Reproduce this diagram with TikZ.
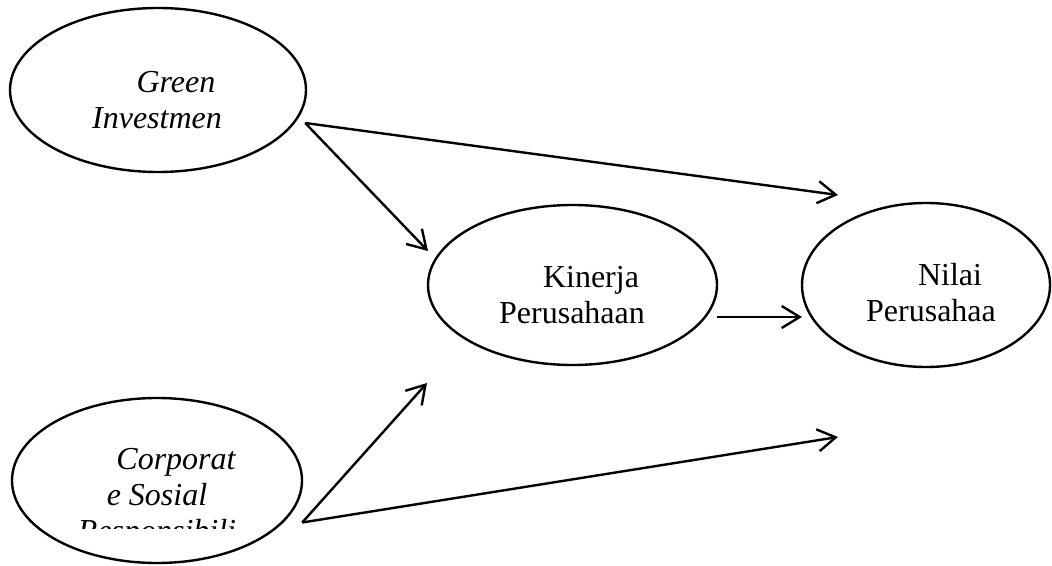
\documentclass[tikz,border=0pt]{standalone}
\usepackage{fontspec}
\setmainfont{Liberation Serif}
\usetikzlibrary{shapes.geometric,arrows.meta}
\tikzset{
  var/.style={draw, ellipse, line width=1.2pt, inner sep=0pt},
  lbl/.style={align=center, inner sep=0pt, font=\fontsize{16}{18}\selectfont},
  itlbl/.style={lbl, font=\fontsize{16}{18}\selectfont\itshape},
  arr/.style={-{Straight Barb[length=9pt,width=11pt]}, line width=1.2pt}
}
\begin{document}
\begin{tikzpicture}[x=0.5pt,y=-0.5pt]
    \useasboundingbox (0,0) rectangle (1052,566);
    %% variables
    \node[var, minimum width=148pt, minimum height=82pt] (gi) at (158,90) {};
    \node[var, minimum width=144.5pt, minimum height=80pt] (kp) at (572.5,285) {};
    \node[var, minimum width=124pt, minimum height=82pt] (np) at (926,285) {};
    \node[var, minimum width=145pt, minimum height=82.5pt] (csr) at (157,480.5) {};
    %% labels
    \node[itlbl] (gi-txt) at (157,100) {\hspace*{19pt}Green\\Investmen};
    \node[lbl] (kp-txt) at (572,295) {\hspace*{19pt}Kinerja\\Perusahaan};
    \node[lbl] (np-txt) at (931,293) {\hspace*{19pt}Nilai\\Perusahaa};
    \begin{scope}
        \clip (0,0) rectangle (1052,528);
        \node[itlbl] (csr-txt) at (157,498) {\hspace*{19pt}Corporat\\e Sosial\\Responsibili};
    \end{scope}
    %% arrow ends (trial and error)
    \coordinate (gi-out) at ([xshift=-1pt,yshift=-16.5pt]gi.east);
    \coordinate (kp-out) at ([xshift=-0.5pt,yshift=-16pt]kp.east);
    \coordinate (csr-out) at ([xshift=-0.5pt,yshift=-21pt]csr.east);
    \coordinate (np-in-top) at (838,195);
    \coordinate (kp-in-top) at (428,251);
    \coordinate (np-in-mid) at (802,317);
    \coordinate (kp-in-bot) at (427,383);
    \coordinate (np-in-bot) at (838,437);
    %% paths
    \draw[arr] (gi-out) -- (np-in-top);
    \draw[arr] (gi-out) -- (kp-in-top);
    \draw[arr] (kp-out) -- (np-in-mid);
    \draw[arr] (csr-out) -- (kp-in-bot);
    \draw[arr] (csr-out) -- (np-in-bot);
\end{tikzpicture}
\end{document}
